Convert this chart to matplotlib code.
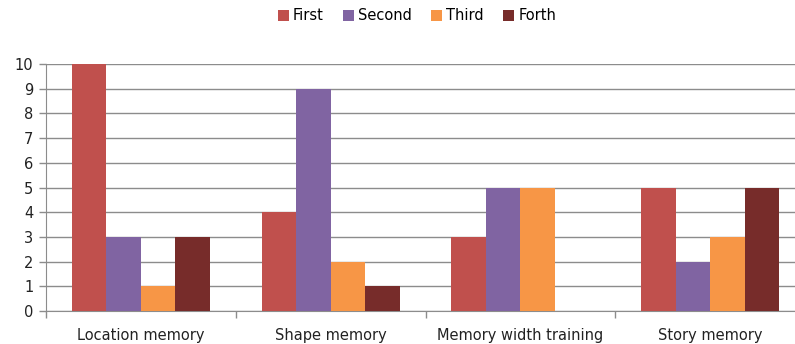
import matplotlib.pyplot as plt
import numpy as np

# categorias y valores de cada serie
categorias = ['Location memory', 'Shape memory', 'Memory width training', 'Story memory']
series = ['First', 'Second', 'Third', 'Forth']
first = [10, 4, 3, 5]
second = [3, 9, 5, 2]
third = [1, 2, 5, 3]
forth = [3, 1, 0, 5]
colores = ['#C0504D', '#8064A2', '#F79646', '#772C2A']

plt.rcParams['font.family'] = ['DejaVu Sans']

fig = plt.figure(figsize=(7.95, 3.44), dpi=100)
# el eje se sale un poco por la derecha de la figura
ax = fig.add_axes([46 / 795, 1 - 311 / 344, 759 / 795, 247 / 344])

x = np.arange(len(categorias))
ancho = 0.182
valores = [first, second, third, forth]
for i, v in enumerate(valores):
    ax.bar(x + (i - 1.5) * ancho, v, ancho, color=colores[i], label=series[i],
           zorder=3)

ax.set_xlim(-0.5, len(categorias) - 0.5)
ax.set_ylim(0, 10)
ax.set_yticks(range(0, 11))
ax.grid(axis='y', color='#8c8c8c', linewidth=1, zorder=0)
ax.set_xticks(x)
ax.set_xticklabels(categorias, fontsize=10.5, color='#222222')
ax.tick_params(axis='x', length=0, pad=12)
ax.tick_params(axis='y', length=5, width=1, color='#8c8c8c', labelsize=10.5,
               labelcolor='#222222', pad=4)
# separadores entre categorias
ax.set_xticks(np.arange(len(categorias) + 1) - 0.5, minor=True)
ax.tick_params(axis='x', which='minor', length=5, width=1, color='#8c8c8c',
               direction='out')

for s in ['top', 'right']:
    ax.spines[s].set_visible(False)
ax.spines['left'].set_color('#8c8c8c')
ax.spines['bottom'].set_color('#8c8c8c')

fig.legend(loc='center', bbox_to_anchor=(417 / 795, 1 - 16 / 344), ncol=4,
           frameon=False, fontsize=10.5, handlelength=0.75, handleheight=0.75,
           handletextpad=0.3, columnspacing=1.3)

fig.savefig('out.png', dpi=100)
